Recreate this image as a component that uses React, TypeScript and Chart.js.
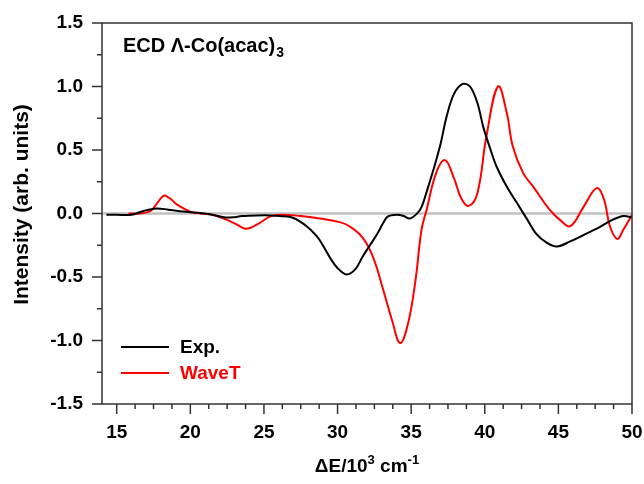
import { useEffect, useRef } from 'react';
import { Chart, registerables } from 'chart.js';

Chart.register(...registerables);

// Experimental ECD spectrum (x in 10^3 cm^-1)
const expX = [14.3, 15, 16, 16.8, 17.7, 18.5, 19.5, 20.5, 21.5, 22.3, 22.9, 23.5, 24.5, 25.5, 26.1, 27.0, 27.9, 28.6, 29.0, 29.5, 30.0, 30.6, 31.2, 31.7, 32.2, 32.7, 33.1, 33.4, 34.0, 34.5, 34.9, 35.4, 35.7, 36.05, 36.5, 37.0, 37.4, 37.9, 38.5, 39.0, 39.5, 39.9, 40.4, 40.8, 41.5, 42.2, 42.9, 43.5, 44.2, 44.9, 45.8, 46.7, 47.6, 48.5, 49.4, 50];
const expY = [-0.01, -0.01, -0.01, 0.02, 0.04, 0.03, 0.015, 0.005, -0.01, -0.03, -0.03, -0.02, -0.015, -0.015, -0.02, -0.035, -0.10, -0.18, -0.25, -0.35, -0.43, -0.48, -0.44, -0.34, -0.25, -0.16, -0.075, -0.025, -0.01, -0.02, -0.04, 0.0, 0.05, 0.17, 0.34, 0.55, 0.76, 0.94, 1.02, 1.0, 0.87, 0.68, 0.50, 0.37, 0.21, 0.08, -0.05, -0.16, -0.23, -0.26, -0.22, -0.17, -0.12, -0.06, -0.02, -0.03];

// WaveT computed spectrum
const waveX = [15.8, 16.5, 17.3, 17.8, 18.2, 18.6, 19.1, 20.0, 20.7, 21.5, 22.5, 23.2, 23.8, 24.7, 25.4, 26.1, 27.5, 28.8, 30.2, 30.8, 31.7, 32.4, 33.1, 33.7, 34.25, 34.8, 35.3, 35.7, 36.05, 36.7, 37.3, 37.9, 38.4, 38.9, 39.5, 40.1, 40.9, 41.5, 41.9, 42.6, 43.3, 44.4, 45.1, 45.8, 46.7, 47.6, 48.1, 48.5, 49.0, 49.4, 50];
const waveY = [0, 0, 0.02, 0.09, 0.14, 0.12, 0.07, 0.015, 0, -0.01, -0.05, -0.09, -0.12, -0.075, -0.025, -0.01, -0.02, -0.04, -0.07, -0.10, -0.19, -0.34, -0.60, -0.84, -1.02, -0.86, -0.52, -0.13, 0.03, 0.32, 0.42, 0.28, 0.12, 0.06, 0.16, 0.60, 1.0, 0.79, 0.53, 0.32, 0.21, 0.03, -0.05, -0.10, 0.05, 0.20, 0.11, -0.10, -0.20, -0.13, -0.01];

const xTicks = [15, 20, 25, 30, 35, 40, 45, 50];
const yTicks = [-1.5, -1.0, -0.5, 0.0, 0.5, 1.0, 1.5];
const legendLabels = ['Exp.', 'WaveT'];
const legendColors = ['#000000', '#ff0000'];
const titleMain = 'ECD \u039B-Co(acac)';
const titleSub = '3';
const yTitle = 'Intensity (arb. units)';

const FONT = "'Liberation Sans', Arial, sans-serif";

export default function App() {
  const ref = useRef<HTMLCanvasElement>(null);

  useEffect(() => {
    document.body.style.margin = '0';
    const canvas = ref.current;
    if (!canvas) return;

    const decor = {
      id: 'decor',
      beforeDatasetsDraw(chart: any) {
        const { ctx, chartArea } = chart;
        const y0 = chart.scales.y.getPixelForValue(0);
        ctx.save();
        ctx.strokeStyle = '#c0c0c0';
        ctx.lineWidth = 2.5;
        ctx.beginPath();
        ctx.moveTo(chartArea.left, y0);
        ctx.lineTo(chartArea.right, y0);
        ctx.stroke();
        ctx.restore();
      },
      afterDraw(chart: any) {
        const { ctx, chartArea } = chart;
        const xs = chart.scales.x;
        const ys = chart.scales.y;
        const { left, right, top, bottom } = chartArea;
        ctx.save();
        // frame
        ctx.strokeStyle = '#333333';
        ctx.lineWidth = 1.5;
        ctx.strokeRect(left, top, right - left, bottom - top);
        // x ticks
        ctx.beginPath();
        for (let v = 15; v <= 50.001; v += 1.25) {
          const px = xs.getPixelForValue(v);
          const major = Math.abs(v / 5 - Math.round(v / 5)) < 1e-6;
          ctx.moveTo(px, bottom);
          ctx.lineTo(px, bottom + (major ? 10 : 5));
        }
        // y ticks
        for (let v = -1.5; v <= 1.5001; v += 0.25) {
          const py = ys.getPixelForValue(v);
          const major = Math.abs(v / 0.5 - Math.round(v / 0.5)) < 1e-6;
          ctx.moveTo(left, py);
          ctx.lineTo(left - (major ? 10 : 5), py);
        }
        ctx.stroke();

        // title
        ctx.fillStyle = '#000';
        ctx.textBaseline = 'alphabetic';
        ctx.textAlign = 'left';
        ctx.font = `bold 20px ${FONT}`;
        const tx = left + 21;
        const ty = top + 29;
        ctx.fillText(titleMain, tx, ty);
        const tw = ctx.measureText(titleMain).width;
        ctx.font = `bold 14px ${FONT}`;
        ctx.fillText(titleSub, tx + tw + 1, ty + 5);

        // legend
        legendLabels.forEach((lab, i) => {
          const ly = 347 + i * 26;
          ctx.strokeStyle = legendColors[i];
          ctx.lineWidth = 2;
          ctx.beginPath();
          ctx.moveTo(left + 19, ly);
          ctx.lineTo(left + 67, ly);
          ctx.stroke();
          ctx.fillStyle = legendColors[i];
          ctx.font = `bold 19px ${FONT}`;
          ctx.textBaseline = 'middle';
          ctx.fillText(lab, left + 78, ly + 1);
        });

        // y title
        ctx.save();
        ctx.fillStyle = '#000';
        ctx.font = `bold 21px ${FONT}`;
        ctx.textAlign = 'center';
        ctx.textBaseline = 'middle';
        ctx.translate(22, (top + bottom) / 2 - 9);
        ctx.rotate(-Math.PI / 2);
        ctx.fillText(yTitle, 0, 0);
        ctx.restore();

        // x title: ΔE/10^3 cm^-1
        const parts: [string, boolean][] = [['\u0394E/10', false], ['3', true], [' cm', false], ['-1', true]];
        const big = `bold 19px ${FONT}`;
        const small = `bold 13px ${FONT}`;
        let total = 0;
        parts.forEach(([s, sup]) => {
          ctx.font = sup ? small : big;
          total += ctx.measureText(s).width;
        });
        let cx = (left + right) / 2 - total / 2;
        const by = 472;
        ctx.textAlign = 'left';
        ctx.textBaseline = 'alphabetic';
        ctx.fillStyle = '#000';
        parts.forEach(([s, sup]) => {
          ctx.font = sup ? small : big;
          ctx.fillText(s, cx, sup ? by - 8 : by);
          cx += ctx.measureText(s).width;
        });
        ctx.restore();
      },
    };

    const chart = new Chart(canvas, {
      type: 'line',
      data: {
        datasets: [
          {
            label: legendLabels[0],
            data: expX.map((x, i) => ({ x, y: expY[i] })),
            borderColor: legendColors[0],
            borderWidth: 2,
            pointRadius: 0,
            tension: 0.35,
            fill: false,
          },
          {
            label: legendLabels[1],
            data: waveX.map((x, i) => ({ x, y: waveY[i] })),
            borderColor: legendColors[1],
            borderWidth: 2,
            pointRadius: 0,
            tension: 0.4,
            fill: false,
          },
        ],
      },
      options: {
        animation: false,
        responsive: false,
        devicePixelRatio: 1,
        layout: { padding: { top: 23, right: 12, left: 0, bottom: 0 } },
        plugins: { legend: { display: false }, tooltip: { enabled: false }, title: { display: false } },
        scales: {
          x: {
            type: 'linear',
            min: 14,
            max: 50,
            afterFit: (s: any) => {
              s.height = 80;
              s.paddingLeft = 0; s.paddingRight = 0; s.paddingTop = 0; s.paddingBottom = 0;
            },
            afterBuildTicks: (s: any) => { s.ticks = xTicks.map((v) => ({ value: v })); },
            grid: { display: false, drawTicks: false },
            border: { display: false },
            ticks: {
              color: '#000',
              font: { family: FONT, size: 19, weight: 'bold' },
              padding: 17,
              maxRotation: 0,
              autoSkip: false,
              callback: (v: any) => String(v),
            },
          },
          y: {
            type: 'linear',
            min: -1.5,
            max: 1.5,
            afterFit: (s: any) => {
              s.width = 102;
              s.paddingLeft = 0; s.paddingRight = 0; s.paddingTop = 0; s.paddingBottom = 0;
            },
            afterBuildTicks: (s: any) => { s.ticks = yTicks.map((v) => ({ value: v })); },
            grid: { display: false, drawTicks: false },
            border: { display: false },
            ticks: {
              color: '#000',
              font: { family: FONT, size: 19, weight: 'bold' },
              padding: 19,
              autoSkip: false,
              callback: (v: any) => Number(v).toFixed(1),
            },
          },
        },
      } as any,
      plugins: [decor],
    });

    return () => chart.destroy();
  }, []);

  return <canvas ref={ref} width={644} height={484} style={{ display: 'block' }} />;
}
